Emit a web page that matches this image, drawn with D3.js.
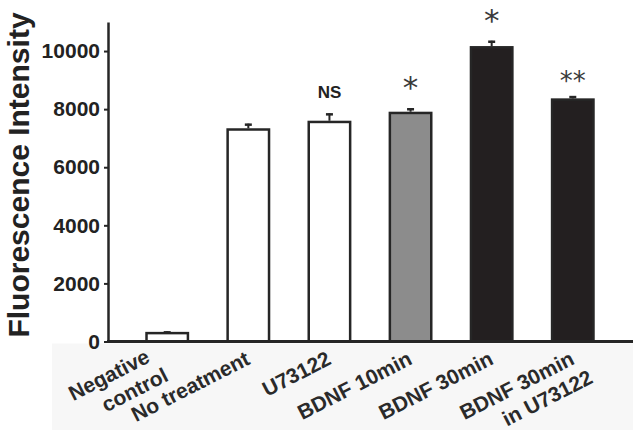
<!DOCTYPE html>
<html lang="en">
  <head>
    <meta charset="utf-8">
    <title>Fluorescence Intensity</title>
    <script src="https://d3js.org/d3.v7.min.js"></script>
    <style>
      body { margin: 0; background: #fff; }
      svg { display: block; font-family: "Liberation Sans", Arial, sans-serif; }
      .tick text { font-size: 21px; font-weight: bold; fill: #222; }
      .xlab { font-size: 21px; font-weight: bold; fill: #2a2a2a; }
    </style>
  </head>
  <body>
    <div id="main"></div>
    <script>
      var categories = ["Negative control", "No treatment", "U73122", "BDNF 10min", "BDNF 30min", "BDNF 30min in U73122"];
      var labelLines = [["Negative", "control"], ["No treatment"], ["U73122"], ["BDNF 10min"], ["BDNF 30min"], ["BDNF 30min", "in U73122"]];
      var groups = ["none", "none", "none", "bdnf10", "bdnf30", "bdnf30"];
      var means = [330, 7340, 7600, 7910, 10170, 8370];
      var errors = [20, 160, 255, 120, 185, 80];
      var marks = ["", "", "NS", "*", "*", "**"];
      var yTicks = [0, 2000, 4000, 6000, 8000, 10000];

      var width = 633, height = 430;
      var svg = d3.select("#main").append("svg")
        .attr("width", width)
        .attr("height", height);

      var x = d3.scaleBand().domain(categories).range([108, 632]).padding(0.46);
      var y = d3.scaleLinear().domain([0, 11000]).range([341.5, 22]);
      var color = d3.scaleOrdinal().domain(["none", "bdnf10", "bdnf30"]).range(["#ffffff", "#8c8c8c", "#231f20"]);

      // faint grey band behind the category labels
      svg.append("rect")
        .attr("x", 52).attr("y", y(0) + 2)
        .attr("width", width - 52).attr("height", height - y(0))
        .attr("fill", "#f7f7f7");

      var data = categories.map(function(c, i) {
        return { cat: c, lines: labelLines[i], group: groups[i], mean: means[i], err: errors[i], mark: marks[i] };
      });

      // bars
      svg.append("g").selectAll("rect").data(data).enter().append("rect")
        .attr("x", function(d) { return x(d.cat) + 1.2; })
        .attr("y", function(d) { return y(d.mean) + 1.2; })
        .attr("width", x.bandwidth() - 2.4)
        .attr("height", function(d) { return y(0) - y(d.mean) - 1.2; })
        .attr("fill", function(d) { return color(d.group); })
        .attr("stroke", "#262626")
        .attr("stroke-width", 2.5);

      // error bars (upper only)
      var eb = svg.append("g").selectAll("g").data(data).enter().append("g")
        .attr("stroke", "#262626");
      eb.append("line")
        .attr("x1", function(d) { return x(d.cat) + x.bandwidth() / 2; })
        .attr("x2", function(d) { return x(d.cat) + x.bandwidth() / 2; })
        .attr("y1", function(d) { return y(d.mean); })
        .attr("y2", function(d) { return y(d.mean + d.err); })
        .attr("stroke-width", 2);
      eb.append("line")
        .attr("x1", function(d) { return x(d.cat) + x.bandwidth() / 2 - 3.5; })
        .attr("x2", function(d) { return x(d.cat) + x.bandwidth() / 2 + 3.5; })
        .attr("y1", function(d) { return y(d.mean + d.err) + 1; })
        .attr("y2", function(d) { return y(d.mean + d.err) + 1; })
        .attr("stroke-width", 2.5);

      // significance marks
      svg.append("g").selectAll("text").data(data.filter(function(d) { return d.mark; })).enter().append("text")
        .attr("x", function(d) { return x(d.cat) + x.bandwidth() / 2; })
        .attr("y", function(d) {
          if (d.mark == "NS") return y(d.mean + d.err) - 15;
          return d.mark == "**" ? y(d.mean + d.err) - 6 : y(d.mean + d.err) - 10;
        })
        .attr("text-anchor", "middle")
        .style("font-family", function(d) { return d.mark == "NS" ? "Liberation Sans" : "DejaVu Sans"; })
        .style("font-weight", function(d) { return d.mark == "NS" ? "bold" : "normal"; })
        .style("font-size", function(d) { return d.mark == "NS" ? "17px" : (d.mark == "**" ? "26px" : "31px"); })
        .style("fill", function(d) { return d.mark == "NS" ? "#222" : "#3a3a3a"; })
        .text(function(d) { return d.mark; });

      // y axis
      var yAxis = d3.axisLeft(y).tickValues(yTicks).tickFormat(d3.format("d"))
        .tickSize(4).tickSizeOuter(0).tickPadding(4);
      var gy = svg.append("g")
        .attr("transform", "translate(108,0)")
        .call(yAxis);
      gy.select(".domain").attr("stroke", "#262626").attr("stroke-width", 2.5);
      gy.selectAll(".tick line").attr("stroke", "#262626").attr("stroke-width", 2);

      // x baseline
      svg.append("line")
        .attr("x1", 107).attr("x2", width)
        .attr("y1", y(0)).attr("y2", y(0))
        .attr("stroke", "#262626").attr("stroke-width", 2.8);

      // category labels, rotated; the first one sits further left to clear its neighbour
      var lab = svg.append("g").selectAll("text").data(data).enter().append("text")
        .attr("class", "xlab")
        .attr("text-anchor", "end")
        .attr("transform", function(d, i) {
          var cx = x(d.cat) + x.bandwidth() / 2 + (i == 0 ? -16 : 3);
          var cy = y(0) + (i == 0 ? 20 : 22);
          return "translate(" + cx + "," + cy + ") rotate(-27)";
        });
      lab.selectAll("tspan").data(function(d) { return d.lines; }).enter().append("tspan")
        .attr("x", function(d, i) { return i * 8; })
        .attr("y", function(d, i) { return i * 25; })
        .text(function(d) { return d; });

      // y axis title
      svg.append("text")
        .attr("transform", "translate(29,175) rotate(-90)")
        .attr("text-anchor", "middle")
        .style("font-size", "30px")
        .style("font-weight", "bold")
        .style("fill", "#222")
        .text("Fluorescence Intensity");
    </script>
  </body>
</html>
